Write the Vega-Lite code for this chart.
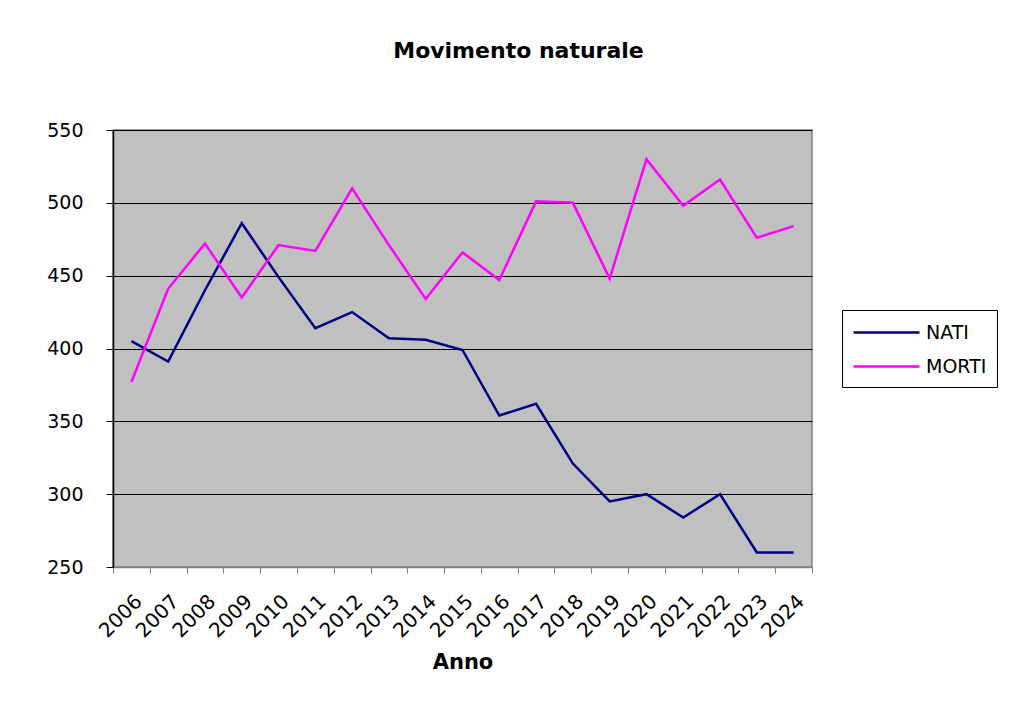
{
  "$schema": "https://vega.github.io/schema/vega-lite/v6.json",
  "autosize": {"type": "none"},
  "width": 699,
  "height": 437,
  "padding": {"left": 113, "top": 130, "right": 203, "bottom": 144},
  "background": "white",
  "title": {
    "text": "Movimento naturale",
    "font": "DejaVu Sans",
    "fontSize": 22,
    "fontWeight": "bold",
    "color": "black",
    "anchor": "middle",
    "dx": 56,
    "offset": 58
  },
  "data": {
    "values": [
      {"Anno": "2006", "serie": "NATI", "valore": 405},
      {"Anno": "2007", "serie": "NATI", "valore": 391},
      {"Anno": "2008", "serie": "NATI", "valore": 440},
      {"Anno": "2009", "serie": "NATI", "valore": 486},
      {"Anno": "2010", "serie": "NATI", "valore": 449},
      {"Anno": "2011", "serie": "NATI", "valore": 414},
      {"Anno": "2012", "serie": "NATI", "valore": 425},
      {"Anno": "2013", "serie": "NATI", "valore": 407},
      {"Anno": "2014", "serie": "NATI", "valore": 406},
      {"Anno": "2015", "serie": "NATI", "valore": 399},
      {"Anno": "2016", "serie": "NATI", "valore": 354},
      {"Anno": "2017", "serie": "NATI", "valore": 362},
      {"Anno": "2018", "serie": "NATI", "valore": 321},
      {"Anno": "2019", "serie": "NATI", "valore": 295},
      {"Anno": "2020", "serie": "NATI", "valore": 300},
      {"Anno": "2021", "serie": "NATI", "valore": 284},
      {"Anno": "2022", "serie": "NATI", "valore": 300},
      {"Anno": "2023", "serie": "NATI", "valore": 260},
      {"Anno": "2024", "serie": "NATI", "valore": 260},
      {"Anno": "2006", "serie": "MORTI", "valore": 377},
      {"Anno": "2007", "serie": "MORTI", "valore": 441},
      {"Anno": "2008", "serie": "MORTI", "valore": 472},
      {"Anno": "2009", "serie": "MORTI", "valore": 435},
      {"Anno": "2010", "serie": "MORTI", "valore": 471},
      {"Anno": "2011", "serie": "MORTI", "valore": 467},
      {"Anno": "2012", "serie": "MORTI", "valore": 510},
      {"Anno": "2013", "serie": "MORTI", "valore": 471},
      {"Anno": "2014", "serie": "MORTI", "valore": 434},
      {"Anno": "2015", "serie": "MORTI", "valore": 466},
      {"Anno": "2016", "serie": "MORTI", "valore": 447},
      {"Anno": "2017", "serie": "MORTI", "valore": 501},
      {"Anno": "2018", "serie": "MORTI", "valore": 500},
      {"Anno": "2019", "serie": "MORTI", "valore": 448},
      {"Anno": "2020", "serie": "MORTI", "valore": 530},
      {"Anno": "2021", "serie": "MORTI", "valore": 498},
      {"Anno": "2022", "serie": "MORTI", "valore": 516},
      {"Anno": "2023", "serie": "MORTI", "valore": 476},
      {"Anno": "2024", "serie": "MORTI", "valore": 484}
    ]
  },
  "mark": {"type": "line", "strokeWidth": 2.5, "strokeJoin": "miter"},
  "encoding": {
    "x": {
      "field": "Anno",
      "type": "ordinal",
      "scale": {"type": "band", "paddingInner": 0, "paddingOuter": 0},
      "axis": {
        "title": "Anno",
        "titleFont": "DejaVu Sans",
        "titleFontSize": 21,
        "titleFontWeight": "bold",
        "titleColor": "black",
        "titlePadding": 10,
        "labelFont": "DejaVu Sans",
        "labelFontSize": 20,
        "labelColor": "black",
        "labelAngle": -45,
        "labelPadding": 18,
        "tickBand": "extent",
        "tickColor": "#808080",
        "tickSize": 6,
        "domainColor": "#808080",
        "domainWidth": 1.5,
        "grid": false
      }
    },
    "y": {
      "field": "valore",
      "type": "quantitative",
      "scale": {"domain": [250, 550], "nice": false, "zero": false},
      "axis": {
        "title": null,
        "values": [250, 300, 350, 400, 450, 500, 550],
        "labelFont": "DejaVu Sans",
        "labelFontSize": 19,
        "labelColor": "black",
        "labelPadding": 23,
        "tickColor": "black",
        "tickSize": 7,
        "domainColor": "black",
        "domainWidth": 1.5,
        "grid": true,
        "gridColor": "black",
        "gridWidth": 1,
        "gridOpacity": 1
      }
    },
    "color": {
      "field": "serie",
      "type": "nominal",
      "scale": {"domain": ["NATI", "MORTI"], "range": ["#000080", "#FF00FF"]},
      "legend": {
        "title": null,
        "orient": "none",
        "legendX": 729,
        "legendY": 180,
        "direction": "vertical",
        "symbolType": "M-1,0H5",
        "symbolStrokeWidth": 2.5,
        "symbolSize": 484,
        "labelFont": "DejaVu Sans",
        "labelFontSize": 19,
        "labelColor": "black",
        "labelOffset": 49,
        "rowPadding": 11,
        "padding": 10,
        "strokeColor": "black",
        "fillColor": "white"
      }
    }
  },
  "config": {
    "view": {"fill": "#C0C0C0", "stroke": "#808080", "strokeWidth": 1.5}
  }
}
